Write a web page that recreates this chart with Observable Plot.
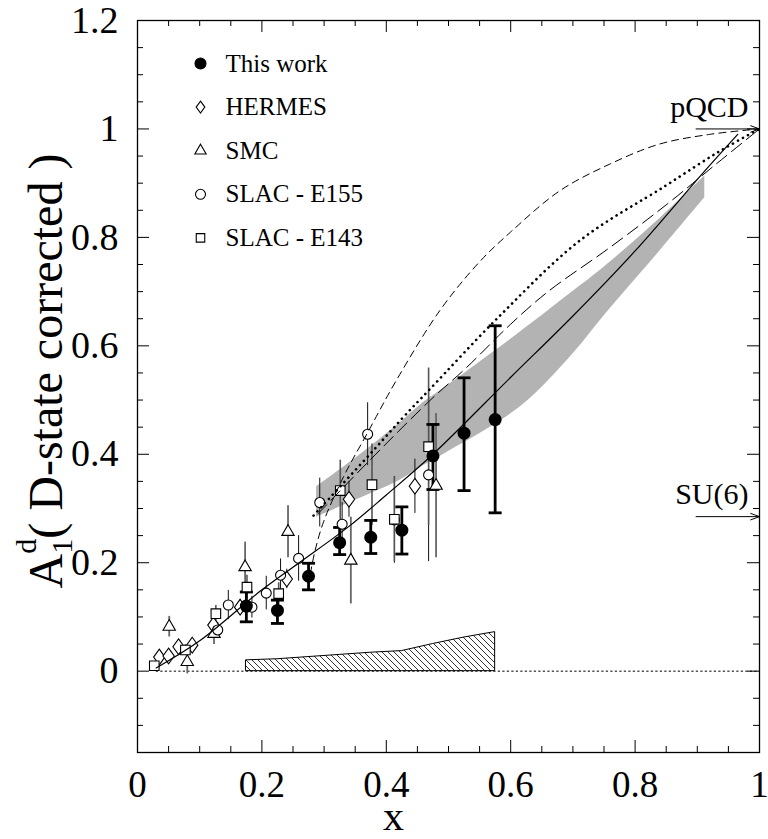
<!DOCTYPE html>
<html><head><meta charset="utf-8">
<script src="https://cdn.jsdelivr.net/npm/d3@7"></script>
<script src="https://cdn.jsdelivr.net/npm/@observablehq/plot@0.6"></script>
<style>body{margin:0;background:#fff;}</style>
</head><body><div id="chart"></div>
<script>
// ---------- data ----------
// This work (filled circles)
const thisX    = [0.175,0.225,0.275,0.325,0.375,0.425,0.475,0.525,0.575];
const thisY    = [0.120,0.112,0.175,0.237,0.247,0.260,0.397,0.439,0.464];
const thisErrLo= [0.029,0.024,0.025,0.022,0.030,0.044,0.062,0.106,0.172];
const thisErrHi= [0.026,0.019,0.024,0.028,0.031,0.043,0.058,0.102,0.173];
// HERMES (diamonds)
const hermesX   = [0.035,0.050,0.066,0.088,0.122,0.165,0.240,0.340,0.446];
const hermesY   = [0.026,0.028,0.045,0.048,0.085,0.118,0.170,0.317,0.341];
const hermesErr = [0.006,0.006,0.007,0.008,0.010,0.014,0.018,0.033,0.050];
// SMC (triangles)
const smcX   = [0.051,0.080,0.123,0.173,0.242,0.343,0.480];
const smcY   = [0.082,0.017,0.069,0.192,0.257,0.204,0.342];
const smcErr = [0.019,0.022,0.020,0.046,0.048,0.080,0.133];
// SLAC E155 (open circles)
const e155X   = [0.129,0.146,0.184,0.207,0.230,0.259,0.293,0.329,0.370,0.413,0.468];
const e155Y   = [0.076,0.122,0.118,0.144,0.177,0.208,0.311,0.271,0.437,0.279,0.362];
const e155Err = [0.014,0.027,0.020,0.031,0.030,0.042,0.045,0.040,0.058,0.080,0.160];
// SLAC E143 (open squares)
const e143X   = [0.027,0.077,0.126,0.176,0.227,0.326,0.377,0.413,0.468];
const e143Y   = [0.010,0.039,0.106,0.155,0.143,0.333,0.344,0.280,0.414];
const e143Err = [0.005,0.010,0.015,0.022,0.020,0.056,0.075,0.078,0.145];
// systematic error (hatched)
const sysX = [0.175,0.225,0.275,0.325,0.375,0.425,0.475,0.525,0.575];
const sysY = [0.020,0.022,0.026,0.030,0.034,0.037,0.050,0.062,0.072];
// curves
const solidX = [0.03,0.10,0.20,0.26,0.34,0.40,0.475,0.60,0.70,0.80,0.91,0.965];
const solidY = [0.006,0.056,0.150,0.200,0.267,0.325,0.400,0.542,0.655,0.775,0.920,0.990];
const dashX = [0.278,0.285,0.299,0.331,0.370,0.416,0.486,0.55,0.60,0.679,0.759,0.839,0.92,1.0];
const dashY = [0.180,0.220,0.275,0.358,0.440,0.536,0.665,0.755,0.810,0.886,0.935,0.972,0.990,1.0];
const dotX = [0.283,0.379,0.427,0.470,0.583,0.711,0.850,0.936,1.0];
const dotY = [0.287,0.407,0.468,0.520,0.656,0.794,0.896,0.959,1.0];
const longDashX = [0.290,0.370,0.470,0.529,0.600,0.660,0.759,0.850,0.930,1.0];
const longDashY = [0.290,0.385,0.499,0.560,0.640,0.700,0.781,0.860,0.935,1.0];
// gray band
const bandX  = [0.288,0.35,0.422,0.454,0.50,0.615,0.70,0.75,0.84,0.912];
const bandLo = [0.284,0.315,0.352,0.375,0.405,0.487,0.585,0.655,0.775,0.873];
const bandHi = [0.340,0.392,0.458,0.490,0.528,0.625,0.700,0.745,0.835,0.913];
// zero line extent
const zeroLineX = [0.03, 1.0];
// annotations
const annotLabels = ["pQCD", "SU(6)"];
const annotValues = [1.0, 0.285];
const arrowStart = 0.898;
// axes
const xDomain = [0, 1];
const yDomain = [-0.15, 1.2];
const xMajor = [0,0.2,0.4,0.6,0.8,1];
const xMinor = [0.05,0.1,0.15,0.25,0.3,0.35,0.45,0.5,0.55,0.65,0.7,0.75,0.85,0.9,0.95];
const yMajor = [0,0.2,0.4,0.6,0.8,1,1.2];
const yMinor = [-0.1,-0.05,0.05,0.1,0.15,0.25,0.3,0.35,0.45,0.5,0.55,0.65,0.7,0.75,0.85,0.9,0.95,1.05,1.1,1.15];
const legendLabels = ["This work","HERMES","SMC","SLAC - E155","SLAC - E143"];

// ---------- layout ----------
const W = 768, H = 839, mL = 137, mR = 9, mT = 20, mB = 87;
const innerH = H - mT - mB, innerW = W - mL - mR;
const FONT = "Liberation Serif";

// ---------- tables ----------
const thisWork = thisX.map((x,i)=>({x, y:thisY[i], lo:thisY[i]-thisErrLo[i], hi:thisY[i]+thisErrHi[i]}));
const mk = (X,Y,E)=>X.map((x,i)=>({x, y:Y[i], lo:Y[i]-E[i], hi:Y[i]+E[i]}));
const hermes = mk(hermesX,hermesY,hermesErr);
const smc = mk(smcX,smcY,smcErr);
const e155 = mk(e155X,e155Y,e155Err);
const e143 = mk(e143X,e143Y,e143Err);
const sys = sysX.map((x,i)=>({x, y:sysY[i]}));
const pts = (X,Y)=>X.map((x,i)=>({x, y:Y[i]}));
const band = bandX.map((x,i)=>({x, lo:bandLo[i], hi:bandHi[i]}));

// ---------- custom symbols ----------
const capSymbol = {draw(ctx, size){ const r = Math.sqrt(size/Math.PI); ctx.moveTo(-r,0); ctx.lineTo(r,0); }};
const diamondSymbol = {draw(ctx, size){ const r = Math.sqrt(size/Math.PI); const w=0.9*r, h=1.25*r;
  ctx.moveTo(0,-h); ctx.lineTo(w,0); ctx.lineTo(0,h); ctx.lineTo(-w,0); ctx.closePath(); }};

const legendSymbols = [
  {symbol:"circle", r:5.5, fill:"black"},
  {symbol:diamondSymbol, r:4.8, fill:"white"},
  {symbol:"triangle", r:4.2, fill:"white"},
  {symbol:"circle", r:5, fill:"white"},
  {symbol:"square", r:4.8, fill:"white"}
];
const legendRowY = (i)=> 43 + i*43.6;

const marks = [
  // gray band
  Plot.areaY(band, {x:"x", y1:"lo", y2:"hi", fill:"#b3b3b3", curve:"catmull-rom"}),
  // hatched systematic error
  Plot.areaY(sys, {x:"x", y:"y", fill:"url(#hatch)", stroke:"black", strokeWidth:1}),
  // zero line
  Plot.line(pts(zeroLineX,[0,0]), {x:"x", y:"y", stroke:"black", strokeWidth:1, strokeDasharray:"1.5,3"}),
  // error bars
  Plot.ruleX(hermes, {x:"x", y1:"lo", y2:"hi", stroke:"#111", strokeWidth:1}),
  Plot.ruleX(e155, {x:"x", y1:"lo", y2:"hi", stroke:"#111", strokeWidth:1}),
  Plot.ruleX(smc, {x:"x", y1:"lo", y2:"hi", stroke:"#666", strokeWidth:1.8}),
  Plot.ruleX(e143, {x:"x", y1:"lo", y2:"hi", stroke:"#555", strokeWidth:1.6}),
  Plot.ruleX(thisWork, {x:"x", y1:"lo", y2:"hi", stroke:"black", strokeWidth:2.8}),
  Plot.dot(thisWork, {x:"x", y:"lo", symbol:capSymbol, r:6.5, stroke:"black", strokeWidth:2.8, fill:"none"}),
  Plot.dot(thisWork, {x:"x", y:"hi", symbol:capSymbol, r:6.5, stroke:"black", strokeWidth:2.8, fill:"none"}),
  // markers
  Plot.dot(hermes, {x:"x", y:"y", symbol:diamondSymbol, r:6.3, stroke:"black", strokeWidth:1.1, fill:"white"}),
  Plot.dot(smc, {x:"x", y:"y", symbol:"triangle", r:4.6, stroke:"black", strokeWidth:1.1, fill:"white"}),
  Plot.dot(e155, {x:"x", y:"y", symbol:"circle", r:5, stroke:"black", strokeWidth:1.1, fill:"white"}),
  Plot.dot(e143, {x:"x", y:"y", symbol:"square", r:5.4, stroke:"black", strokeWidth:1.1, fill:"white"}),
  Plot.dot(thisWork, {x:"x", y:"y", symbol:"circle", r:6.5, fill:"black", stroke:"none"}),
  // curves
  Plot.line(pts(solidX,solidY), {x:"x", y:"y", curve:"catmull-rom", stroke:"black", strokeWidth:1.2}),
  Plot.line(pts(dashX,dashY), {x:"x", y:"y", curve:"catmull-rom", stroke:"black", strokeWidth:1, strokeDasharray:"7,5"}),
  Plot.line(pts(longDashX,longDashY), {x:"x", y:"y", curve:"catmull-rom", stroke:"black", strokeWidth:1, strokeDasharray:"13,6"}),
  Plot.line(pts(dotX,dotY), {x:"x", y:"y", curve:"catmull-rom", stroke:"black", strokeWidth:2.6, strokeLinecap:"round", strokeDasharray:"0.1,5.6"}),
  // annotations
  Plot.arrow(annotLabels, {x1:()=>arrowStart, x2:()=>xDomain[1], y1:(d,i)=>annotValues[i], y2:(d,i)=>annotValues[i],
    stroke:"black", strokeWidth:1, headLength:14, headAngle:40}),
  Plot.text(annotLabels, {text:d=>d, y:(d,i)=>annotValues[i], frameAnchor:"right", textAnchor:"end", lineAnchor:"middle", dx:-11, dy:-22,
    fontSize:30, fontFamily:FONT, fill:"black"}),
  // legend
  ...legendLabels.map((lab,i)=>Plot.dot([lab], {frameAnchor:"top-left", dx:63, dy:legendRowY(i),
    symbol:legendSymbols[i].symbol, r:legendSymbols[i].r, fill:legendSymbols[i].fill, stroke:"black", strokeWidth:1.1})),
  ...legendLabels.map((lab,i)=>Plot.text([lab], {text:d=>d, frameAnchor:"top-left", dx:88, dy:legendRowY(i),
    textAnchor:"start", lineAnchor:"middle", fontSize:25, fontFamily:FONT, fill:"black"})),
  // frame and ticks
  Plot.frame({stroke:"black", strokeWidth:1.3}),
  Plot.tickX(xMajor, {x:d=>d, insetTop:innerH-12, stroke:"black", strokeWidth:1}),
  Plot.tickX(xMajor, {x:d=>d, insetBottom:innerH-12, stroke:"black", strokeWidth:1}),
  Plot.tickX(xMinor, {x:d=>d, insetTop:innerH-6, stroke:"black", strokeWidth:1}),
  Plot.tickX(xMinor, {x:d=>d, insetBottom:innerH-6, stroke:"black", strokeWidth:1}),
  Plot.tickY(yMajor, {y:d=>d, insetRight:innerW-12, stroke:"black", strokeWidth:1}),
  Plot.tickY(yMajor, {y:d=>d, insetLeft:innerW-12, stroke:"black", strokeWidth:1}),
  Plot.tickY(yMinor, {y:d=>d, insetRight:innerW-6, stroke:"black", strokeWidth:1}),
  Plot.tickY(yMinor, {y:d=>d, insetLeft:innerW-6, stroke:"black", strokeWidth:1}),
  Plot.axisX(xMajor, {anchor:"bottom", tickSize:0, tickPadding:18, fontSize:37, fontFamily:FONT, label:null, tickFormat:d=>String(d)}),
  Plot.axisY(yMajor, {anchor:"left", tickSize:0, tickPadding:19, fontSize:38, fontFamily:FONT, label:null, tickFormat:d=>String(d)}),
  Plot.text(["x"], {text:d=>d, frameAnchor:"bottom", lineAnchor:"middle", dx:-55, dy:64, fontSize:42, fontFamily:FONT, fill:"black"})
];

const plot = Plot.plot({
  width: W, height: H,
  marginLeft: mL, marginRight: mR, marginTop: mT, marginBottom: mB,
  x: {domain: xDomain},
  y: {domain: yDomain},
  style: {fontFamily: FONT, background: "white", color: "black", overflow: "visible"},
  marks
});

// pattern for hatched area
const svg = d3.select(plot);
const defs = svg.insert("defs", ":first-child");
const pat = defs.append("pattern").attr("id","hatch").attr("patternUnits","userSpaceOnUse")
  .attr("width",6).attr("height",6);
pat.append("rect").attr("width",6).attr("height",6).attr("fill","white");
pat.append("path").attr("d","M0,0L6,6M-1,5L1,7M5,-1L7,1").attr("stroke","black").attr("stroke-width",0.8);

// y-axis title with sub/superscript
const t = svg.append("text").attr("transform", `translate(62,${mT + innerH/2 - 15}) rotate(-90)`)
  .attr("text-anchor","middle").attr("font-family",FONT).attr("font-size",48).attr("fill","black");
t.append("tspan").text("A");
t.append("tspan").attr("font-size",30).attr("dy",10).text("1");
t.append("tspan").attr("font-size",30).attr("dx",-15).attr("dy",-36).text("d");
t.append("tspan").attr("dy",26).text("( D-state corrected )");

document.getElementById("chart").appendChild(plot);
</script>
</body></html>
